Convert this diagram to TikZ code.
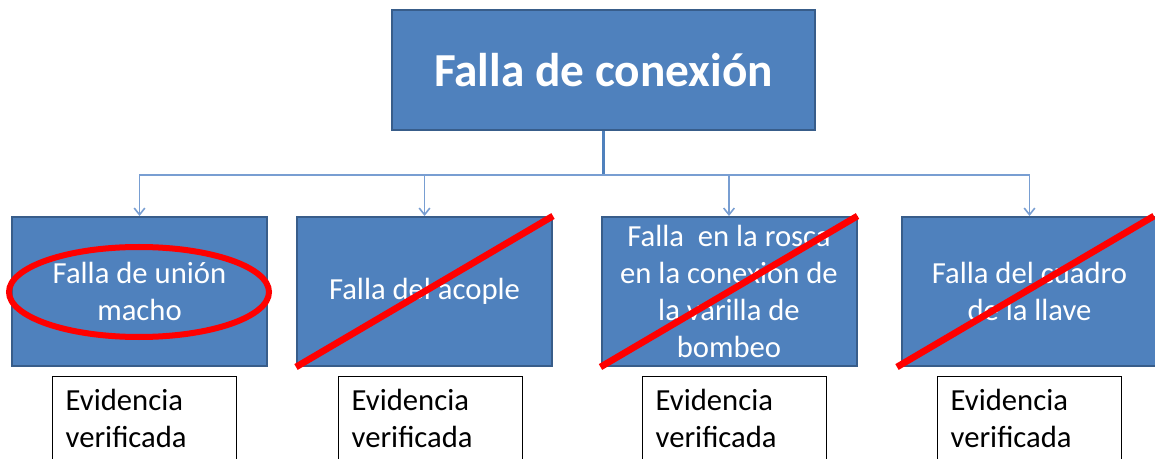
\documentclass[tikz,border=0pt]{standalone}
\usepackage{fontspec}
\setmainfont{Carlito}
\usetikzlibrary{arrows.meta,positioning}

\definecolor{boxblue}{RGB}{79,129,189}
\definecolor{boxedge}{RGB}{56,93,138}
\definecolor{linkblue}{RGB}{120,158,210}
\definecolor{strikered}{RGB}{255,0,0}

\tikzset{
  headbox/.style={draw=boxedge,line width=1.5pt,fill=boxblue,text=white,
    minimum width=317.25pt,minimum height=90pt,inner sep=0pt,
    font=\fontsize{35.5}{40}\selectfont\bfseries},
  faultbox/.style={draw=boxedge,line width=1.5pt,fill=boxblue,text=white,
    minimum width=191.25pt,minimum height=111.75pt,inner sep=0pt,
    align=center,font=\fontsize{23}{27.75}\selectfont},
  evbox/.style={draw=black,line width=1pt,fill=white,anchor=north west,
    text width=118.5pt,align=left,inner xsep=9.75pt,inner ysep=0pt,
    text height=25.5pt,text depth=60pt,font=\fontsize{23}{27.75}\selectfont},
  stem/.style={draw=boxblue,line width=2pt},
  branch/.style={draw=linkblue,line width=1.2pt,-{Straight Barb[length=5pt,width=8pt]}},
  strike/.style={draw=strikered,line width=5pt},
}

\begin{document}
\begin{tikzpicture}[x=0.75pt,y=-0.75pt]
\useasboundingbox (0,0) rectangle (1155,459);
\clip (0,0) rectangle (1155,459);

% Top box
\node[headbox] (conexion) at (603.5,70) {Falla de conexión};

% Fault boxes
\node[faultbox] (union)  at (139.5,291.5)  {Falla de unión\\macho};
\node[faultbox] (acople) at (424.5,291.5)  {Falla del acople};
\node[faultbox] (rosca)  at (729,291.5)    {Falla\ \ en la rosca\\en la conexión de\\la varilla de\\bombeo};
\node[faultbox] (cuadro) at (1029.5,291.5) {Falla del cuadro\\de la llave};

% Evidence boxes
\node[evbox] (ev1) at (52,376)  {Evidencia\\verificada};
\node[evbox] (ev2) at (338,376) {Evidencia\\verificada};
\node[evbox] (ev3) at (642,376) {Evidencia\\verificada};
\node[evbox] (ev4) at (937,376) {Evidencia\\verificada};

% Connectors
\coordinate (bar) at (603.5,175);
\draw[stem] (conexion.south) -- (conexion.south |- bar);
\foreach \f in {union,acople,rosca,cuadro}
  \draw[branch] (conexion.south |- bar) -| (\f.north);

% Marks
\draw[strikered,line width=4.5pt] (139,292) ellipse [x radius=130,y radius=45];
\draw[strike] (acople.south west) -- (acople.north east);
\draw[strike] (rosca.south west) -- (rosca.north east);
\draw[strike] ([xshift=-3pt]cuadro.south west) -- ([xshift=-3pt]cuadro.north east);

\end{tikzpicture}
\end{document}
